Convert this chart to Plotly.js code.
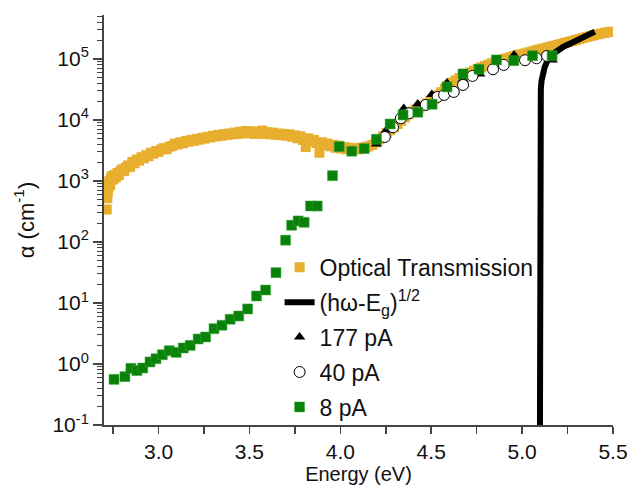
<!DOCTYPE html>
<html>
<head>
<meta charset="utf-8">
<script src="https://cdn.plot.ly/plotly-3.0.1.min.js"></script>
<style>html,body{margin:0;padding:0;background:#fff;}#chart{width:630px;height:490px;}</style>
</head>
<body>
<div id="chart"></div>
<script>
// ---- Optical transmission (orange) ----
const optX = [2.715,2.718,2.721,2.724,2.727,2.730,2.734,2.738,2.743,2.748,2.754,2.760,2.767,2.774,2.782,2.790,2.800,2.810,2.820,2.832,2.844,2.856,2.868,2.880,2.893,2.906,2.919,2.932,2.945,2.958,2.972,2.986,3.000,
3.015,3.030,3.045,3.060,3.075,3.090,3.105,3.120,3.135,3.150,3.165,3.180,3.195,3.210,3.225,3.240,3.255,3.270,3.285,3.300,3.315,3.330,3.345,3.360,3.375,3.390,3.405,3.420,3.435,3.450,3.465,3.480,3.495,
3.510,3.525,3.540,3.555,3.570,3.585,3.600,3.615,3.630,3.645,3.660,3.675,3.690,3.705,3.720,3.735,3.750,3.765,3.780,3.795,3.810,3.825,3.840,3.855,3.870,3.885,3.900,3.915,3.930,3.945,3.960,3.975,3.990,
4.005,4.020,4.035,4.050,4.065,4.080,4.095,4.110,4.125,4.140,
4.155,4.175,4.195,4.215,4.235,4.255,4.275,4.295,4.315,4.335,4.355,4.375,4.395,4.415,4.435,4.455,4.475,4.495,4.515,4.535,4.555,4.575,4.595,4.615,4.635,4.655,4.675,4.695,4.715,4.735,4.755,4.775,4.795,
4.815,4.835,4.855,4.875,4.895,4.915,4.935,4.955,4.975,4.995,5.015,5.035,5.055,5.075,5.095,5.115,5.135,5.155,5.175,5.195,5.215,5.235,5.255,5.275,5.295,5.315,5.335,5.355,5.375,5.395,5.415,5.435,5.455,5.475,5.495];
const optY = [340,520,650,780,900,1000,850,1100,1200,1050,1100,1250,1150,1350,1250,1450,1550,1450,1650,1800,1700,2050,1950,2250,2150,2450,2350,2650,2550,2900,2800,3100,3000,
3300,3450,3300,3650,3750,4100,3950,4300,4150,4500,4400,4700,4550,4900,4750,5100,4950,5300,5150,5500,5350,5700,5500,5850,5650,6000,5800,6200,5900,6400,6000,6600,6100,
6500,5900,6400,6000,6700,5900,6300,5800,6200,5700,6000,5600,5900,5500,5800,5300,5600,5000,5400,4700,3600,5000,4400,4700,4200,2900,4300,3900,4100,3700,3900,3500,3800,
3400,3600,3300,3500,3200,3400,3300,3500,3450,3600,
3700,3900,4300,4800,5400,6100,6800,7700,8600,9700,11000,12300,13600,14800,15900,17000,18500,20300,22200,25200,28500,32500,37000,41000,44500,48700,52500,56500,60000,64000,68500,72500,76500,
80500,85000,90000,94000,98000,102000,107000,111000,115000,119000,123000,128000,133000,138000,143000,148000,153000,159000,164000,170000,176000,183000,190000,197000,204000,212000,220000,229000,237000,245000,253000,261000,268000,275000,281000];

// ---- (hw - Eg)^1/2 fit (black line) ----
const fitX = [5.098,5.0982,5.0988,5.100,5.103,5.107,5.112,5.124,5.138,5.152,5.175,5.198,5.230,5.280,5.330,5.370,5.400];
const fitY = [0.05,1000,10000,20000,32000,44000,56000,73000,92000,108000,124000,140000,160000,188000,225000,255000,280000];

// ---- 177 pA (triangles) ----
const tri177X = [4.199,4.254,4.349,4.426,4.503,4.587,4.675,4.767,4.859,4.956,5.058,5.165];
const tri177Y = [4050,6860,15450,18270,26170,40450,46130,56750,89300,116400,112000,96300];

// ---- 40 pA (open circles) ----
const circ40X = [4.245,4.290,4.333,4.378,4.470,4.535,4.571,4.624,4.675,4.727,4.840,4.899,5.016,5.079,5.137];
const circ40Y = [5260,7590,10660,12880,17630,23820,25700,28800,37500,52600,67700,79800,95300,102600,112000];

// ---- 8 pA (green squares) ----
const sq8X = [2.755,2.815,2.848,2.881,2.913,2.953,2.986,3.021,3.059,3.097,3.136,3.174,3.218,3.259,3.305,3.349,3.394,3.441,3.490,3.539,3.589,3.646,3.699,3.732,3.768,3.801,3.836,3.873,3.957,3.994,4.063,4.131,4.199,4.274,4.345,4.426,4.505,4.587,4.675,4.763,4.859,4.954,5.057,5.165];
const sq8Y = [0.56,0.62,0.85,0.78,0.86,1.08,1.22,1.42,1.65,1.55,1.83,2.02,2.57,2.77,3.79,4.31,5.41,6.12,7.98,13.0,16.3,31.4,107,188,221,210,389,389,1222,3650,3070,3390,4820,8590,12080,13370,18070,34750,56750,67700,96300,93700,113000,113000];

// ---- axis ticks ----
const yTickVals = [0.1,1,10,100,1000,10000,100000];
const yTickText = ['10<sup>-1</sup>','10<sup>0</sup>','10<sup>1</sup>','10<sup>2</sup>','10<sup>3</sup>','10<sup>4</sup>','10<sup>5</sup>'];

const names = ['Optical Transmission','(hω-E<sub>g</sub>)<sup>1/2</sup>','177 pA','40 pA','8 pA'];

const FONT = 'Liberation Sans, Arial, sans-serif';
const orange = '#E8AF2E', green = '#0A820A';

const traces = [
  {x: optX, y: optY, name: names[0], legendgroup: 'a', mode: 'markers', type: 'scatter',
   marker: {symbol: 'square', size: 10, color: orange}},
  {x: fitX, y: fitY, name: names[1], legendgroup: 'b', mode: 'lines', type: 'scatter',
   line: {color: '#000', width: 6}},
  {x: tri177X, y: tri177Y, name: names[2], legendgroup: 'c', mode: 'markers', type: 'scatter',
   marker: {symbol: 'triangle-up', size: 10, color: '#000'}},
  {x: circ40X, y: circ40Y, name: names[3], legendgroup: 'd', mode: 'markers', type: 'scatter',
   marker: {symbol: 'circle', size: 11, color: '#fff', line: {color: '#000', width: 1}}},
  {x: sq8X, y: sq8Y, name: names[4], legendgroup: 'e', mode: 'markers', type: 'scatter',
   marker: {symbol: 'square', size: 10, color: green, line: {color: '#3fa63f', width: 0.5}}}
];

const layout = {
  width: 630, height: 490,
  margin: {l: 104, r: 17, t: 15, b: 65},
  paper_bgcolor: '#fff', plot_bgcolor: '#fff',
  font: {family: FONT, color: '#111', size: 20},
  showlegend: true,
  legend: {x: 0.345, y: 0.437, xanchor: 'left', yanchor: 'top', traceorder: 'grouped',
           bgcolor: 'rgba(0,0,0,0)', font: {size: 23, family: FONT, color: '#111'},
           tracegroupgap: 2},
  xaxis: {
    range: [2.7, 5.5], dtick: 0.5, tick0: 0, tickformat: '.1f',
    showgrid: false, zeroline: false,
    showline: true, linecolor: '#444', linewidth: 2,
    ticks: 'outside', ticklen: 7, tickwidth: 1.5, tickcolor: '#444',
    tickfont: {size: 21},
    minor: {dtick: 0.25, ticks: 'outside', ticklen: 7, tickwidth: 1.5, tickcolor: '#444', showgrid: false},
    title: {text: 'Energy (eV)', font: {size: 20}, standoff: 5}
  },
  yaxis: {
    type: 'log', range: [-1, 5.72],
    tickmode: 'array', tickvals: yTickVals, ticktext: yTickText,
    showgrid: false, zeroline: false,
    showline: true, linecolor: '#444', linewidth: 2,
    ticks: 'outside', ticklen: 9, tickwidth: 1.5, tickcolor: '#444',
    tickfont: {size: 21},
    minor: {dtick: 'D1', ticks: 'outside', ticklen: 5, tickwidth: 1, tickcolor: '#444', showgrid: false},
    title: {text: 'α (cm<sup>-1</sup>)', font: {size: 22}, standoff: 12}
  }
};

Plotly.newPlot('chart', traces, layout, {staticPlot: true, displayModeBar: false});
</script>
</body>
</html>
